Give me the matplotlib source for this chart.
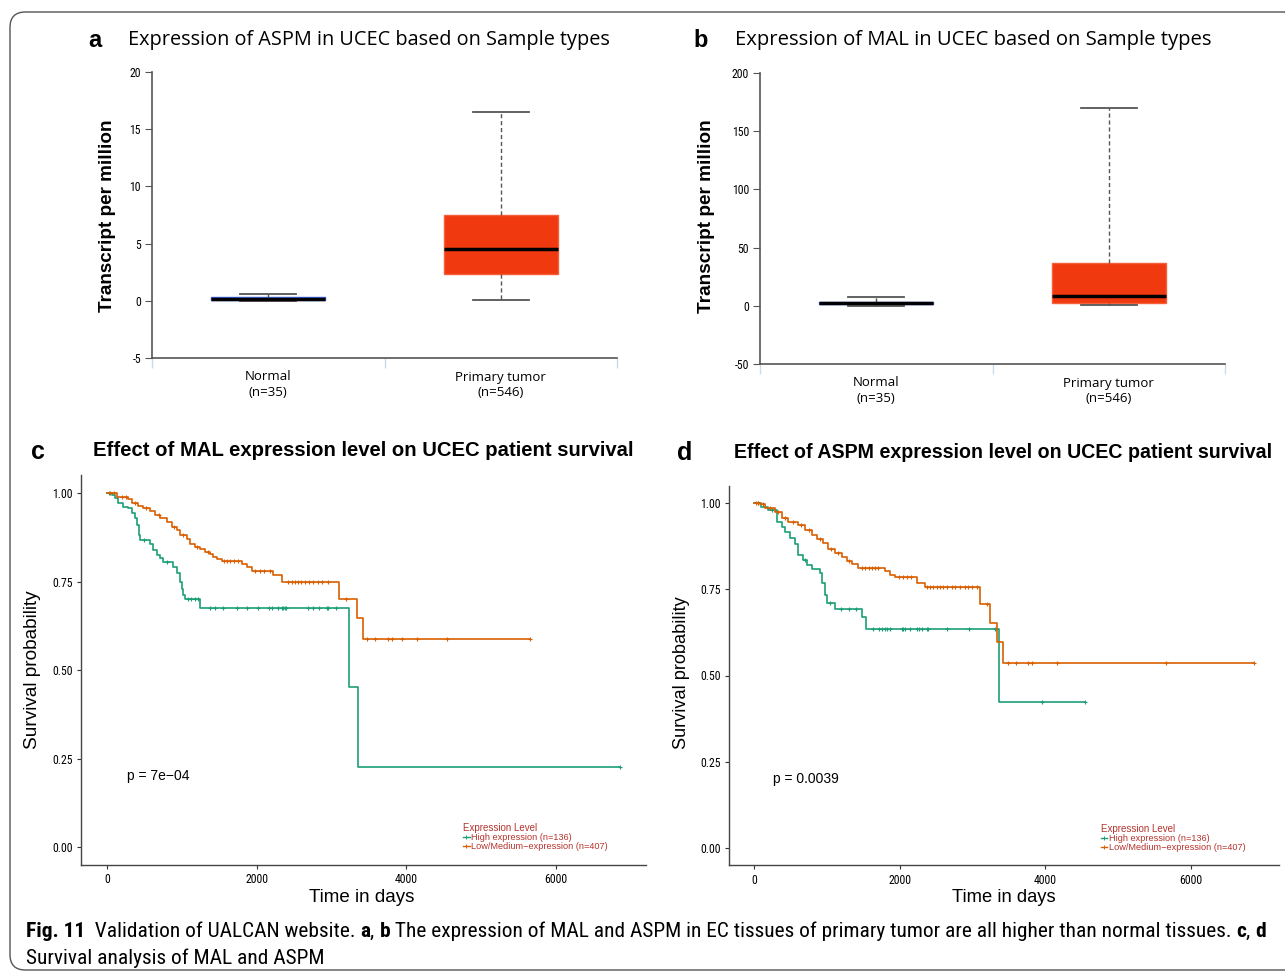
import numpy as np
import matplotlib
matplotlib.use('Agg')
import matplotlib.pyplot as plt
from matplotlib import font_manager
from matplotlib.patches import FancyBboxPatch
from matplotlib.lines import Line2D

plt.rcParams['axes.unicode_minus'] = False

W, H = 1285, 974

# ---------------- box plot data (transcript per million) ----------------
groups = ['Normal\n(n=35)', 'Primary tumor\n(n=546)']
aspm_q1 = [0.1, 2.3]
aspm_med = [0.2, 4.5]
aspm_q3 = [0.35, 7.5]
aspm_lo = [0.0, 0.1]
aspm_hi = [0.6, 16.5]

mal_q1 = [1.5, 2.0]
mal_med = [2.5, 8.0]
mal_q3 = [3.5, 37.0]
mal_lo = [0.0, 0.5]
mal_hi = [7.5, 170.0]

# ---------------- survival data ----------------
# MAL
mal_low_t = [0, 130, 285, 330, 420, 486, 575, 642, 709, 798, 865, 931, 976, 1066, 1110,
             1177, 1243, 1310, 1380, 1422, 1466, 1533, 1800, 1867, 1934, 2223, 2343,
             3106, 3338, 3418, 5650]
mal_low_s = [1.0, 0.99, 0.983, 0.971, 0.962, 0.957, 0.949, 0.938, 0.930, 0.918, 0.904,
             0.895, 0.880, 0.871, 0.857, 0.848, 0.843, 0.834, 0.829, 0.820, 0.813, 0.808,
             0.799, 0.792, 0.780, 0.768, 0.748, 0.700, 0.646, 0.588, 0.588]
mal_low_cens = [40, 90, 200, 260, 380, 520, 700, 900, 1020, 1200, 1350, 1560, 1600, 1650,
                1700, 1750, 1980, 2050, 2100, 2180, 2420, 2470, 2520, 2560, 2600, 2650,
                2700, 2760, 2820, 2880, 2950, 3195, 3476, 3583, 3757, 3810, 3944, 4144,
                4543, 5650]
mal_high_t = [0, 62, 107, 151, 218, 285, 330, 374, 396, 430, 441, 575, 620, 664, 709, 754,
              887, 931, 976, 998, 1021, 1043, 1243, 3240, 3360, 6858]
mal_high_s = [1.0, 0.994, 0.985, 0.971, 0.961, 0.957, 0.943, 0.929, 0.910, 0.881, 0.867,
              0.855, 0.839, 0.825, 0.815, 0.804, 0.792, 0.773, 0.749, 0.730, 0.711, 0.700,
              0.674, 0.451, 0.225, 0.225]
mal_high_cens = [30, 500, 800, 1080, 1130, 1180, 1220, 1380, 1445, 1555, 1735, 1870, 2025,
                 2160, 2210, 2290, 2335, 2360, 2380, 2400, 2690, 2760, 2830, 2940, 2960,
                 3060, 6858]

# ASPM
aspm_low_t = [0, 82, 151, 288, 380, 471, 608, 700, 792, 860, 952, 1020, 1112, 1204, 1272,
              1341, 1433, 1799, 1867, 1936, 2233, 2347, 3102, 3240, 3340, 3422, 6859]
aspm_low_s = [1.0, 0.996, 0.985, 0.975, 0.956, 0.946, 0.936, 0.922, 0.907, 0.897, 0.883,
              0.868, 0.854, 0.844, 0.831, 0.822, 0.812, 0.802, 0.792, 0.786, 0.769, 0.757,
              0.706, 0.651, 0.598, 0.537, 0.537]
aspm_low_cens = [30, 60, 120, 220, 330, 430, 540, 650, 750, 900, 1060, 1160, 1300, 1480,
                 1530, 1580, 1620, 1660, 1700, 1990, 2050, 2100, 2150, 2371, 2417, 2462,
                 2508, 2554, 2600, 2646, 2714, 2760, 2828, 2897, 2943, 2989, 3057, 3203,
                 3491, 3592, 3765, 3811, 4155, 5662, 6859]
aspm_high_t = [0, 96, 187, 311, 380, 425, 494, 563, 608, 677, 723, 792, 906, 938, 975, 998,
               1112, 1478, 1535, 3363, 4544]
aspm_high_s = [1.0, 0.987, 0.980, 0.946, 0.931, 0.917, 0.898, 0.880, 0.850, 0.835, 0.820,
               0.810, 0.796, 0.767, 0.733, 0.709, 0.694, 0.670, 0.635, 0.424, 0.424]
aspm_high_cens = [50, 250, 700, 1040, 1200, 1300, 1400, 1640, 1710, 1755, 1800, 1830, 1870,
                  2030, 2050, 2075, 2135, 2235, 2260, 2300, 2370, 2395, 2645, 2945, 3310,
                  3949, 4544]

high_label = 'High expression (n=136)'
low_label = 'Low/Medium\u2212expression (n=407)'

# ---------------- fonts ----------------
avail = {f.name for f in font_manager.fontManager.ttflist}


def pick(*names):
    for n in names:
        if n in avail:
            return n
    return 'DejaVu Sans'


NARROW = pick('Liberation Sans Narrow', 'Roboto Condensed', 'Liberation Sans')
ARIAL = pick('Liberation Sans', 'Arial')
OPEN = pick('Open Sans', 'Noto Sans')

GREEN = '#1b9e77'
ORANGE = '#d95f02'
LEGRED = '#b5332e'

fig = plt.figure(figsize=(W / 100, H / 100), dpi=100)
rend = fig.canvas.get_renderer()


def fx(x):
    return x / W


def fy(y):
    return 1 - y / H


def label(s, cx, cy, length, rotation=0, **kw):
    # text centred at pixel (cx, cy), sized so that it spans `length` pixels
    t = fig.text(0, 0, s, fontsize=10, **kw)
    w = t.get_window_extent(renderer=rend).width
    t.set_fontsize(10 * length / w)
    t.set_rotation(rotation)
    t.set_position((fx(cx), fy(cy)))
    t.set_ha('center')
    t.set_va('center')
    return t


def seg_width(s, size, **kw):
    t = fig.text(0, 0, 'x' + s + 'x', fontsize=size, **kw)
    w1 = t.get_window_extent(renderer=rend).width
    t.set_text('xx')
    w2 = t.get_window_extent(renderer=rend).width
    t.remove()
    return w1 - w2


def text_run(pieces, x0, base, size, family):
    x = x0
    for s, bold in pieces:
        wt = 'bold' if bold else 'normal'
        fig.text(fx(x), fy(base), s, fontsize=size, family=family, weight=wt,
                 ha='left', va='baseline')
        x += seg_width(s, size, family=family, weight=wt)


# ---------------- frame ----------------
frame = FancyBboxPatch((fx(10), fy(970)), fx(1300) - fx(10), fy(12) - fy(970),
                       boxstyle='round,pad=0,rounding_size=0.012',
                       transform=fig.transFigure, fill=False,
                       edgecolor='#555555', lw=1.0, mutation_aspect=W / H)
fig.patches.append(frame)


# ---------------- box plots ----------------
def box_panel(rect, q1, med, q3, lo, hi, ylim, yticks):
    ax = fig.add_axes(rect)
    stats = [dict(q1=q1[i], med=med[i], q3=q3[i], whislo=lo[i], whishi=hi[i],
                  label=groups[i]) for i in range(len(groups))]
    b = ax.bxp(stats, positions=[0.5, 1.5], widths=0.49, capwidths=0.24,
               patch_artist=True, showfliers=False, manage_ticks=False,
               whiskerprops=dict(color='#555555', ls=(0, (3, 2)), lw=1.0),
               capprops=dict(color='#555555', lw=1.3),
               medianprops=dict(color='black', lw=2.5, solid_capstyle='butt'))
    for patch, fc, ec in zip(b['boxes'], ['#1f3a9a', '#f1390f'], ['#3d63e6', '#f5603a']):
        patch.set_facecolor(fc)
        patch.set_edgecolor(ec)
        patch.set_linewidth(1.0)
    ax.set_xlim(0, 2)
    ax.set_ylim(*ylim)
    ax.set_yticks(yticks)
    ax.set_xticks([0, 1, 2], labels=['', '', ''])
    ax.set_xticks([0.5, 1.5], labels=groups, minor=True)
    ax.tick_params(axis='x', which='major', length=7, color='#c9dcee', width=1.0)
    ax.tick_params(axis='x', which='minor', length=0, pad=9, labelsize=9.5)
    ax.tick_params(axis='y', length=5, color='#555555', labelsize=8.5, pad=3)
    for lab in ax.get_xticklabels(minor=True):
        lab.set_family(OPEN)
        lab.set_linespacing(1.25)
    for lab in ax.get_yticklabels():
        lab.set_family(NARROW)
    for side in ['top', 'right']:
        ax.spines[side].set_visible(False)
    for side in ['left', 'bottom']:
        ax.spines[side].set_color('#555555')
        ax.spines[side].set_linewidth(1.2)
    return ax


box_panel([fx(152), fy(358), (617 - 152) / W, (358 - 72) / H],
          aspm_q1, aspm_med, aspm_q3, aspm_lo, aspm_hi, (-5, 20), [-5, 0, 5, 10, 15, 20])
box_panel([fx(760), fy(364), (1225 - 760) / W, (364 - 73) / H],
          mal_q1, mal_med, mal_q3, mal_lo, mal_hi, (-50, 200), [-50, 0, 50, 100, 150, 200])

label('Transcript per million', 107, 216, 192, rotation=90, family=ARIAL, weight='bold')
label('Transcript per million', 706, 216, 193, rotation=90, family=ARIAL, weight='bold')

fig.text(fx(95), fy(47), 'a', fontsize=17, family=ARIAL, weight='bold', ha='center', va='baseline')
fig.text(fx(701), fy(47), 'b', fontsize=17, family=ARIAL, weight='bold', ha='center', va='baseline')
label('Expression of ASPM in UCEC based on Sample types', (128 + 609) / 2, 40, 481, family=OPEN)
label('Expression of MAL in UCEC based on Sample types', (734 + 1212) / 2, 40, 478, family=OPEN)


# ---------------- survival panels ----------------
def km_panel(rect, curves, ptext):
    ax = fig.add_axes(rect)
    for t, s, cens, col in curves:
        t = np.asarray(t, float)
        s = np.asarray(s, float)
        ax.step(t, s, where='post', color=col, lw=1.2)
        c = np.asarray(cens, float)
        idx = np.searchsorted(t, c, side='right') - 1
        ax.plot(c, s[idx], ls='none', marker='+', ms=3.5, mew=0.8, color=col)
    ax.set_xlim(-343, 7202)
    ax.set_ylim(-0.05, 1.05)
    ax.set_xticks([0, 2000, 4000, 6000])
    ax.set_yticks([0, 0.25, 0.5, 0.75, 1.0], labels=['0.00', '0.25', '0.50', '0.75', '1.00'])
    ax.tick_params(length=3, color='#333333', labelsize=8.5, pad=3)
    for lab in ax.get_xticklabels() + ax.get_yticklabels():
        lab.set_family(NARROW)
    for side in ['top', 'right']:
        ax.spines[side].set_visible(False)
    for side in ['left', 'bottom']:
        ax.spines[side].set_color('#444444')
        ax.spines[side].set_linewidth(1.0)
    ax.text(265, 0.2, ptext, fontsize=10, family=ARIAL, ha='left', va='center')
    handles = [Line2D([], [], color=GREEN, lw=1, marker='+', ms=3, mew=0.7),
               Line2D([], [], color=ORANGE, lw=1, marker='+', ms=3, mew=0.7)]
    leg = ax.legend(handles, [high_label, low_label], title='Expression Level',
                    loc='lower left', bbox_to_anchor=(0.667, 0.02), frameon=False,
                    handlelength=0.7, handletextpad=0.2,
                    labelspacing=0.0, borderpad=0.1, alignment='left',
                    prop=dict(family=ARIAL, size=6.6))
    leg.get_title().set_color(LEGRED)
    leg.get_title().set_family(ARIAL)
    leg.get_title().set_fontsize(7.0)
    for tx in leg.get_texts():
        tx.set_color(LEGRED)
    return ax


km_panel([fx(81.3), fy(864.7), (645.6 - 81.3) / W, (864.7 - 475.3) / H],
         [(mal_high_t, mal_high_s, mal_high_cens, GREEN),
          (mal_low_t, mal_low_s, mal_low_cens, ORANGE)], 'p = 7e\u221204')
km_panel([fx(729), fy(865.25), (1278.6 - 729) / W, (865.25 - 485.75) / H],
         [(aspm_high_t, aspm_high_s, aspm_high_cens, GREEN),
          (aspm_low_t, aspm_low_s, aspm_low_cens, ORANGE)], 'p = 0.0039')

label('Survival probability', 33, 670, 160, rotation=90, family=ARIAL)
label('Survival probability', 682, 673, 153, rotation=90, family=ARIAL)
label('Time in days', 362, 898, 106, family=ARIAL)
label('Time in days', 1004, 898, 104, family=ARIAL)

fig.text(fx(38), fy(459), 'c', fontsize=18, family=ARIAL, weight='bold', ha='center', va='baseline')
fig.text(fx(685), fy(460), 'd', fontsize=18, family=ARIAL, weight='bold', ha='center', va='baseline')
label('Effect of MAL expression level on UCEC patient survival', (93 + 633) / 2, 451, 540,
      family=ARIAL, weight='bold')
label('Effect of ASPM expression level on UCEC patient survival', (733 + 1273) / 2, 453, 540,
      family=ARIAL, weight='bold')

# ---------------- caption ----------------
line1 = [('Fig. 11', True), ('  Validation of UALCAN website. ', False), ('a', True), (', ', False),
         ('b', True),
         (' The expression of MAL and ASPM in EC tissues of primary tumor are all higher than normal tissues. ',
          False), ('c', True), (', ', False), ('d', True)]
line2 = [('Survival analysis of MAL and ASPM', False)]
total = sum(seg_width(s, 10, family=NARROW, weight='bold' if b else 'normal') for s, b in line1)
cap_size = 10 * (1262 - 26) / total
text_run(line1, 26, 937, cap_size, NARROW)
text_run(line2, 26, 964, cap_size, NARROW)

fig.savefig('out.png', dpi=100)
